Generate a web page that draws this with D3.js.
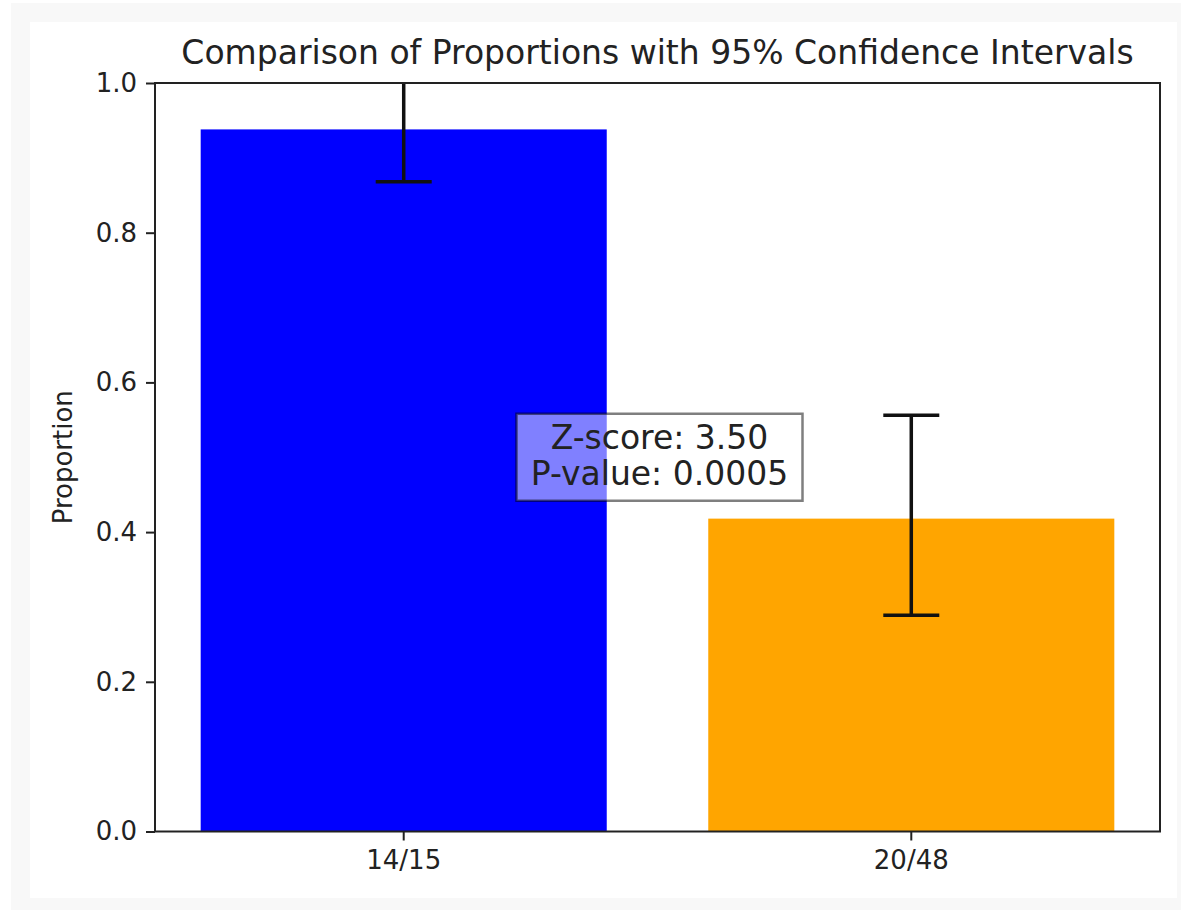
<!DOCTYPE html>
<html>
<head>
<meta charset="utf-8">
<script src="https://cdn.jsdelivr.net/npm/d3@7"></script>
<style>
  html, body { margin: 0; padding: 0; background: #fff; }
  svg text { font-family: "DejaVu Sans", sans-serif; fill: #222; }
</style>
</head>
<body>
<script>
// Data
const categories = ["14/15", "20/48"];
const proportions = [0.938, 0.418];
const ciLow = [0.868, 0.289];
const ciHigh = [1.008, 0.556];
const barColors = ["#0000ff", "#ffa500"];
const yTicks = [0.0, 0.2, 0.4, 0.6, 0.8, 1.0];
const statLines = ["Z-score: 3.50", "P-value: 0.0005"];

const W = 1181, H = 910;
const plot = { left: 155, right: 1160, top: 83, bottom: 831.5 };

const svg = d3.select("body").append("svg")
    .attr("width", W)
    .attr("height", H);

// Outer frame + figure background
svg.append("rect").attr("x", 11).attr("y", 3).attr("width", W - 11).attr("height", H - 3).attr("fill", "#f8f8f8");
svg.append("rect").attr("x", 30).attr("y", 22).attr("width", 1147).attr("height", 876).attr("fill", "#fff");

const x = d3.scaleBand()
    .domain(categories)
    .range([plot.left, plot.right])
    .paddingInner(0.2)
    .paddingOuter(0.09);

const y = d3.scaleLinear()
    .domain([0, 1])
    .range([plot.bottom, plot.top]);

svg.append("defs").append("clipPath").attr("id", "clip")
  .append("rect")
    .attr("x", plot.left).attr("y", plot.top)
    .attr("width", plot.right - plot.left).attr("height", plot.bottom - plot.top);

const g = svg.append("g").attr("clip-path", "url(#clip)");

// Bars
g.selectAll("rect.bar")
    .data(categories)
  .enter().append("rect")
    .attr("class", "bar")
    .attr("x", d => x(d))
    .attr("width", x.bandwidth())
    .attr("y", (d, i) => y(proportions[i]))
    .attr("height", (d, i) => y(0) - y(proportions[i]))
    .attr("fill", (d, i) => barColors[i]);

// Error bars
const capHalf = 28;
const eb = g.selectAll("g.err")
    .data(categories)
  .enter().append("g")
    .attr("class", "err")
    .attr("stroke", "#111")
    .attr("stroke-width", 3.5);

eb.append("line")
    .attr("x1", d => x(d) + x.bandwidth() / 2)
    .attr("x2", d => x(d) + x.bandwidth() / 2)
    .attr("y1", (d, i) => y(ciLow[i]))
    .attr("y2", (d, i) => y(ciHigh[i]));

eb.append("line")
    .attr("x1", d => x(d) + x.bandwidth() / 2 - capHalf)
    .attr("x2", d => x(d) + x.bandwidth() / 2 + capHalf)
    .attr("y1", (d, i) => y(ciLow[i]))
    .attr("y2", (d, i) => y(ciLow[i]));

eb.append("line")
    .attr("x1", d => x(d) + x.bandwidth() / 2 - capHalf)
    .attr("x2", d => x(d) + x.bandwidth() / 2 + capHalf)
    .attr("y1", (d, i) => y(ciHigh[i]))
    .attr("y2", (d, i) => y(ciHigh[i]));

// Axes
const yAxis = svg.append("g")
    .attr("transform", `translate(${plot.left},0)`)
    .call(d3.axisLeft(y).tickValues(yTicks).tickFormat(d3.format(".1f")).tickSize(9).tickPadding(9));

const xAxis = svg.append("g")
    .attr("transform", `translate(0,${plot.bottom})`)
    .call(d3.axisBottom(x).tickSize(9).tickPadding(10));

[xAxis, yAxis].forEach(a => {
  a.select(".domain").remove();
  a.selectAll(".tick line").attr("stroke", "#222").attr("stroke-width", 2);
  a.selectAll(".tick text").style("font-size", "26px").attr("fill", "#222");
});

// Spines
svg.append("rect")
    .attr("x", plot.left).attr("y", plot.top)
    .attr("width", plot.right - plot.left).attr("height", plot.bottom - plot.top)
    .attr("fill", "none")
    .attr("stroke", "#222")
    .attr("stroke-width", 2);

// Stats box at data centre (0.5, 0.5)
const cx = (x(categories[0]) + x(categories[1]) + x.bandwidth()) / 2;
const cy = y(0.5);
const boxW = 286, boxH = 87;
svg.append("rect")
    .attr("x", cx - boxW / 2 + 2).attr("y", cy - boxH / 2)
    .attr("width", boxW).attr("height", boxH)
    .attr("fill", "#fff").attr("fill-opacity", 0.5)
    .attr("stroke", "#000").attr("stroke-opacity", 0.5)
    .attr("stroke-width", 2.5);

// two separate lines, 36px apart
svg.selectAll("text.stat")
    .data(statLines)
  .enter().append("text")
    .attr("class", "stat")
    .attr("x", cx + 2)
    .attr("y", (d, i) => cy - 8 + i * 36)
    .attr("text-anchor", "middle")
    .style("font-size", "33px")
    .text(d => d);

// Y label
svg.append("text")
    .attr("transform", `translate(72,${(plot.top + plot.bottom) / 2}) rotate(-90)`)
    .attr("text-anchor", "middle")
    .style("font-size", "26px")
    .text("Proportion");

// Title
svg.append("text")
    .attr("x", (plot.left + plot.right) / 2)
    .attr("y", 64)
    .attr("text-anchor", "middle")
    .style("font-size", "33px")
    .text("Comparison of Proportions with 95% Confidence Intervals");
</script>
</body>
</html>
